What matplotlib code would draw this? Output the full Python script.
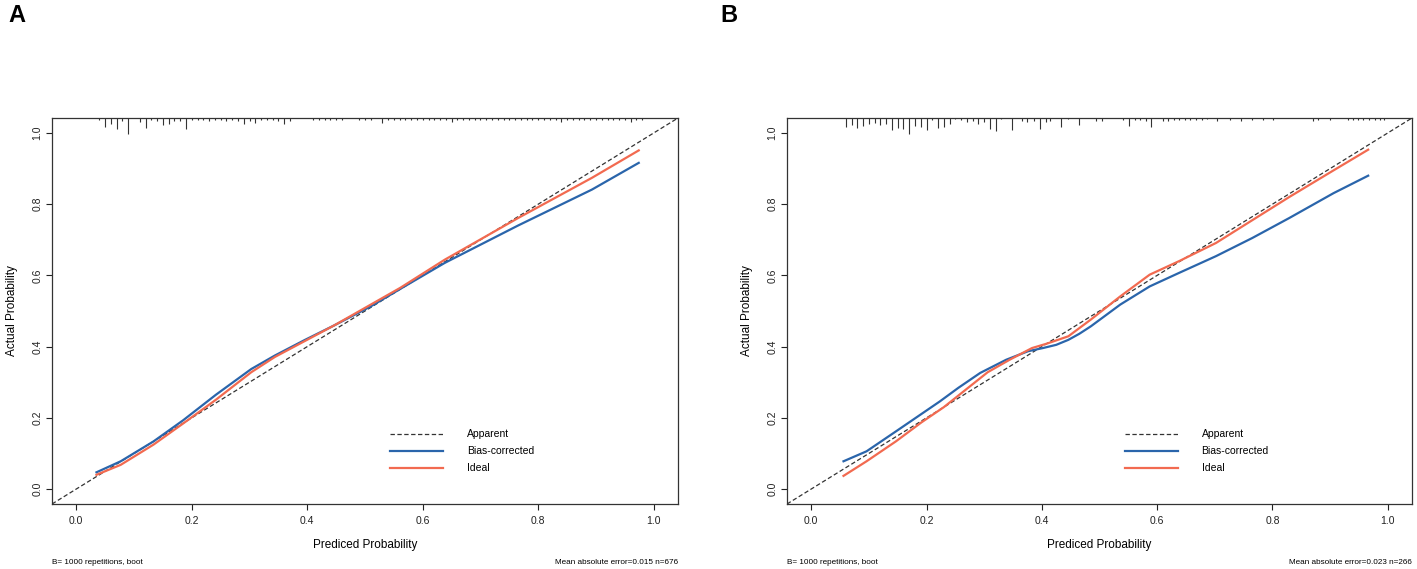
import numpy as np
import matplotlib
matplotlib.use("Agg")
import matplotlib.pyplot as plt

plt.rcParams['font.family'] = ['Liberation Sans', 'DejaVu Sans']

# ---- datos ----
# Panel A
a_x = [0.035, 0.077, 0.134, 0.185, 0.242, 0.303, 0.344, 0.395, 0.446, 0.510, 0.561, 0.638, 0.765, 0.893, 0.974]
a_bias = [0.047, 0.078, 0.134, 0.193, 0.265, 0.337, 0.375, 0.418, 0.459, 0.513, 0.562, 0.635, 0.740, 0.841, 0.916]
a_ideal = [0.040, 0.068, 0.125, 0.184, 0.251, 0.328, 0.371, 0.415, 0.459, 0.518, 0.565, 0.644, 0.761, 0.874, 0.951]

# Panel B
b_x = [0.056, 0.096, 0.147, 0.185, 0.223, 0.255, 0.293, 0.338, 0.376, 0.402, 0.425, 0.446, 0.465, 0.485, 0.536,
       0.587, 0.638, 0.702, 0.765, 0.829, 0.906, 0.966]
b_bias = [0.078, 0.106, 0.162, 0.204, 0.246, 0.284, 0.326, 0.363, 0.387, 0.396, 0.405, 0.419, 0.436, 0.457, 0.518,
          0.569, 0.607, 0.654, 0.705, 0.761, 0.831, 0.880]
b_ideal_x = [0.056, 0.096, 0.147, 0.191, 0.230, 0.268, 0.306, 0.344, 0.383, 0.408, 0.446, 0.485, 0.536, 0.587, 0.638,
             0.702, 0.765, 0.829, 0.906, 0.966]
b_ideal = [0.037, 0.078, 0.134, 0.187, 0.230, 0.279, 0.328, 0.363, 0.396, 0.408, 0.429, 0.476, 0.541, 0.602, 0.640,
           0.691, 0.755, 0.820, 0.895, 0.953]

# rug (histograma de predicciones): posicion y largo del trazo en pixeles
rug_a_pos = [0.04, 0.05, 0.06, 0.07, 0.08, 0.09, 0.11, 0.12, 0.13, 0.14, 0.15, 0.16, 0.17, 0.18, 0.19,
             0.20, 0.21, 0.22, 0.23, 0.24, 0.25, 0.26, 0.27, 0.28, 0.29, 0.30, 0.31, 0.32, 0.33, 0.34,
             0.35, 0.36, 0.37, 0.41, 0.42, 0.43, 0.44, 0.45, 0.46, 0.49, 0.50, 0.51, 0.53, 0.54, 0.55,
             0.56, 0.57, 0.58, 0.59, 0.60, 0.61, 0.62, 0.63, 0.64, 0.65, 0.66, 0.67, 0.68, 0.69, 0.70,
             0.71, 0.72, 0.73, 0.74, 0.75, 0.76, 0.77, 0.78, 0.79, 0.80, 0.81, 0.82, 0.83, 0.84, 0.85,
             0.86, 0.87, 0.88, 0.89, 0.90, 0.91, 0.92, 0.93, 0.94, 0.95, 0.96, 0.97, 0.98]
rug_a_len = [2, 9, 6, 11, 3, 16, 4, 10, 2, 3, 7, 6, 3, 3, 11,
             2, 2, 2, 3, 2, 2, 3, 2, 3, 6, 3, 5, 2, 2, 2,
             3, 6, 3, 2, 2, 2, 2, 2, 2, 2, 2, 2, 5, 2, 2,
             2, 2, 2, 2, 2, 2, 2, 2, 2, 4, 2, 2, 2, 2, 2,
             2, 2, 2, 2, 2, 2, 2, 2, 2, 2, 2, 2, 2, 4, 2,
             2, 2, 2, 2, 2, 2, 2, 2, 2, 2, 4, 2, 2]

rug_b_pos = [0.06, 0.07, 0.08, 0.09, 0.10, 0.11, 0.12, 0.13, 0.14, 0.15, 0.16, 0.17, 0.18, 0.19, 0.20,
             0.21, 0.22, 0.23, 0.24, 0.25, 0.26, 0.27, 0.28, 0.29, 0.30, 0.31, 0.32, 0.33, 0.348, 0.365,
             0.375, 0.386, 0.397, 0.407, 0.415, 0.434, 0.446, 0.465, 0.494, 0.504, 0.541, 0.551, 0.562, 0.570,
             0.581, 0.590, 0.610, 0.619, 0.629, 0.638, 0.648, 0.657, 0.667, 0.677, 0.686, 0.704, 0.726, 0.746,
             0.765, 0.784, 0.801, 0.870, 0.879, 0.900, 0.931, 0.940, 0.948, 0.957, 0.967, 0.977, 0.986, 0.994]
rug_b_len = [9, 7, 10, 8, 6, 5, 7, 6, 12, 10, 11, 16, 8, 9, 12,
             2, 10, 9, 6, 1, 2, 4, 3, 6, 4, 11, 13, 1, 12, 3,
             4, 3, 11, 4, 3, 9, 1, 7, 3, 3, 2, 8, 2, 2,
             3, 9, 3, 3, 2, 2, 2, 2, 2, 2, 1, 3, 2, 3,
             2, 2, 2, 3, 2, 2, 2, 2, 2, 2, 2, 2, 2, 2]

ticks = [0.0, 0.2, 0.4, 0.6, 0.8, 1.0]
tick_labels = ["0.0", "0.2", "0.4", "0.6", "0.8", "1.0"]
legend_labels = ["Apparent", "Bias-corrected", "Ideal"]
footer_left = "B= 1000 repetitions, boot"
footer_right = ["Mean absolute error=0.015 n=676", "Mean absolute error=0.023 n=266"]
panel_letters = ["A", "B"]

BLUE = "#2a65ab"
RED = "#f26a50"
AX_H_PX = 386.0

fig = plt.figure(figsize=(14.17, 5.69), dpi=100)
ax_a = fig.add_axes([52 / 1417, 65 / 569, 626 / 1417, 386 / 569])
ax_b = fig.add_axes([787 / 1417, 65 / 569, 625 / 1417, 386 / 569])

panels = [
    (ax_a, a_x, a_bias, a_x, a_ideal, rug_a_pos, rug_a_len),
    (ax_b, b_x, b_bias, b_ideal_x, b_ideal, rug_b_pos, rug_b_len),
]

for i, (ax, xb, yb, xi, yi, rpos, rlen) in enumerate(panels):
    ax.set_xlim(-0.042, 1.042)
    ax.set_ylim(-0.042, 1.042)

    # diagonal
    ax.axline((0, 0), slope=1, color="#333333", lw=0.9, ls=(0, (3.5, 2)), label=legend_labels[0])
    ax.plot(xb, yb, color=BLUE, lw=1.6, label=legend_labels[1], solid_joinstyle="round")
    ax.plot(xi, yi, color=RED, lw=1.6, label=legend_labels[2], solid_joinstyle="round")

    # rug en el borde superior
    tr = ax.get_xaxis_transform()
    ax.vlines(rpos, 1.0, [1.0 - l / AX_H_PX for l in rlen], transform=tr, color="#333333", lw=0.8)

    ax.set_xticks(ticks)
    ax.set_xticklabels(tick_labels)
    ax.set_yticks(ticks)
    ax.set_yticklabels(tick_labels, rotation=90, va="center")
    ax.tick_params(direction="out", length=4, width=0.8, labelsize=7.5, colors="#222222", pad=5)
    ax.tick_params(axis="y", pad=3)
    for s in ax.spines.values():
        s.set_linewidth(0.9)
        s.set_color("#333333")

    ax.set_xlabel("Prediced Probability", fontsize=8.5, labelpad=9)
    ax.set_ylabel("Actual Probability", fontsize=8.5, labelpad=10)

    ax.legend(loc="upper left", bbox_to_anchor=(0.525, 0.218), frameon=False, fontsize=7.5,
              handlelength=5.1, handletextpad=2.3, labelspacing=0.68)

    left_px = 52 if i == 0 else 787
    right_px = 678 if i == 0 else 1412
    fig.text(left_px / 1417, 7 / 569, footer_left, fontsize=5.9, ha="left", va="center")
    fig.text(right_px / 1417, 7 / 569, footer_right[i], fontsize=5.9, ha="right", va="center")
    fig.text((8 if i == 0 else 720) / 1417, 554 / 569, panel_letters[i], fontsize=17,
             fontweight="bold", ha="left", va="center")

fig.savefig("out.png", dpi=100)
